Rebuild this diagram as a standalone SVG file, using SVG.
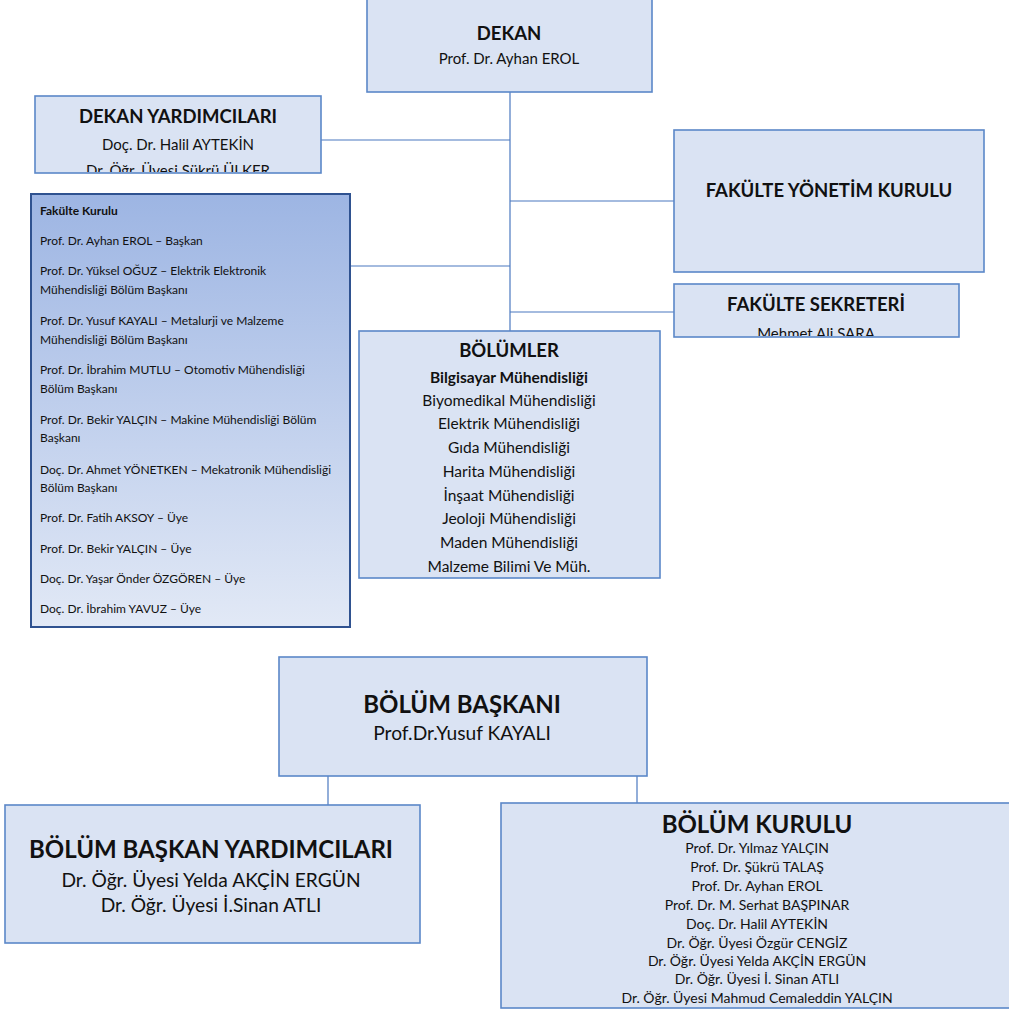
<svg xmlns="http://www.w3.org/2000/svg" width="1009" height="1012" viewBox="0 0 1009 1012">
<style>
text{font-family:Lato,"Liberation Sans",sans-serif;fill:#111;}
.box{fill:#DAE3F3;stroke:#5B87C8;stroke-width:1.6;}
.t{font-weight:bold;font-size:18.5px;text-anchor:middle;}
.n{font-size:15px;text-anchor:middle;}
.b{font-size:15.5px;text-anchor:middle;}
.big{font-weight:bold;font-size:24px;text-anchor:middle;}
.mid{font-size:19.2px;text-anchor:middle;}
.sm{font-size:14px;text-anchor:middle;}
.fk{font-size:12px;}
.con{stroke:#4A78C0;stroke-width:1.2;fill:none;}
</style>
<defs>
<linearGradient id="gk" x1="0" y1="0" x2="0" y2="1">
<stop offset="0" stop-color="#9DB5E3"/>
<stop offset="1" stop-color="#E2E9F6"/>
</linearGradient>
<clipPath id="cy"><rect x="35" y="96" width="286" height="76"/></clipPath>
<clipPath id="cs"><rect x="674" y="284" width="285" height="52"/></clipPath>
</defs>
<g id="connectors">
<line class="con" x1="510" y1="92" x2="510" y2="331"/>
<line class="con" x1="321" y1="140" x2="510" y2="140"/>
<line class="con" x1="350" y1="266" x2="510" y2="266"/>
<line class="con" x1="510" y1="201" x2="674" y2="201"/>
<line class="con" x1="510" y1="312" x2="674" y2="312"/>
<line class="con" x1="328" y1="776" x2="328" y2="805"/>
<line class="con" x1="637" y1="773" x2="637" y2="803"/>
</g>
<g id="dekan">
<rect class="box" x="367" y="-2" width="285" height="94"/>
<text class="t" x="509" y="40">DEKAN</text>
<text class="n" x="509" y="64">Prof. Dr. Ayhan EROL</text>
</g>
<g id="dekan-yardimcilari">
<rect class="box" x="35" y="96" width="286" height="77"/>
<g clip-path="url(#cy)">
<text class="t" x="178" y="123">DEKAN YARDIMCILARI</text>
<text class="n" x="178" y="150">Doç. Dr. Halil AYTEKİN</text>
<text class="n" x="178" y="176">Dr. Öğr. Üyesi Şükrü ÜLKER</text>
</g>
</g>
<g id="fakulte-kurulu">
<rect x="31" y="194" width="319" height="433" fill="url(#gk)" stroke="#2F5290" stroke-width="2"/>
<text class="fk" x="40" y="215" font-weight="bold">Fakülte Kurulu</text>
<text class="fk" x="40" y="245">Prof. Dr. Ayhan EROL – Başkan</text>
<text class="fk" x="40" y="275">Prof. Dr. Yüksel OĞUZ – Elektrik Elektronik</text>
<text class="fk" x="40" y="294">Mühendisliği Bölüm Başkanı</text>
<text class="fk" x="40" y="325">Prof. Dr. Yusuf KAYALI – Metalurji ve Malzeme</text>
<text class="fk" x="40" y="344">Mühendisliği Bölüm Başkanı</text>
<text class="fk" x="40" y="374">Prof. Dr. İbrahim MUTLU – Otomotiv Mühendisliği</text>
<text class="fk" x="40" y="393">Bölüm Başkanı</text>
<text class="fk" x="40" y="424">Prof. Dr. Bekir YALÇIN – Makine Mühendisliği Bölüm</text>
<text class="fk" x="40" y="442">Başkanı</text>
<text class="fk" x="40" y="474">Doç. Dr. Ahmet YÖNETKEN – Mekatronik Mühendisliği</text>
<text class="fk" x="40" y="492">Bölüm Başkanı</text>
<text class="fk" x="40" y="522">Prof. Dr. Fatih AKSOY – Üye</text>
<text class="fk" x="40" y="553">Prof. Dr. Bekir YALÇIN – Üye</text>
<text class="fk" x="40" y="583">Doç. Dr. Yaşar Önder ÖZGÖREN – Üye</text>
<text class="fk" x="40" y="613">Doç. Dr. İbrahim YAVUZ – Üye</text>
</g>
<g id="fakulte-yonetim-kurulu">
<rect class="box" x="674" y="130" width="310" height="142"/>
<text class="t" x="829" y="197">FAKÜLTE YÖNETİM KURULU</text>
</g>
<g id="fakulte-sekreteri">
<rect class="box" x="674" y="284" width="285" height="53"/>
<g clip-path="url(#cs)">
<text class="t" x="816" y="311">FAKÜLTE SEKRETERİ</text>
<text class="n" x="816" y="339">Mehmet Ali SARA</text>
</g>
</g>
<g id="bolumler">
<rect class="box" x="359" y="331" width="301" height="247"/>
<text class="t" x="509" y="357">BÖLÜMLER</text>
<text class="b" x="509" y="383" font-weight="bold">Bilgisayar Mühendisliği</text>
<text class="b" x="509" y="406">Biyomedikal Mühendisliği</text>
<text class="b" x="509" y="429">Elektrik Mühendisliği</text>
<text class="b" x="509" y="453">Gıda Mühendisliği</text>
<text class="b" x="509" y="477">Harita Mühendisliği</text>
<text class="b" x="509" y="501">İnşaat Mühendisliği</text>
<text class="b" x="509" y="524">Jeoloji Mühendisliği</text>
<text class="b" x="509" y="548">Maden Mühendisliği</text>
<text class="b" x="509" y="572">Malzeme Bilimi Ve Müh.</text>
</g>
<g id="bolum-baskani">
<rect class="box" x="279" y="657" width="368" height="119"/>
<text class="big" x="462" y="713">BÖLÜM BAŞKANI</text>
<text class="mid" x="462" y="740">Prof.Dr.Yusuf KAYALI</text>
</g>
<g id="bolum-baskan-yardimcilari">
<rect class="box" x="5" y="805" width="415" height="138"/>
<text class="big" x="211" y="858">BÖLÜM BAŞKAN YARDIMCILARI</text>
<text class="mid" x="211" y="887">Dr. Öğr. Üyesi Yelda AKÇİN ERGÜN</text>
<text class="mid" x="211" y="912">Dr. Öğr. Üyesi İ.Sinan ATLI</text>
</g>
<g id="bolum-kurulu">
<rect class="box" x="501" y="803" width="510" height="205"/>
<text class="big" x="757" y="833">BÖLÜM KURULU</text>
<text class="sm" x="757" y="853">Prof. Dr. Yılmaz YALÇIN</text>
<text class="sm" x="757" y="872">Prof. Dr. Şükrü TALAŞ</text>
<text class="sm" x="757" y="891">Prof. Dr. Ayhan EROL</text>
<text class="sm" x="757" y="910">Prof. Dr. M. Serhat BAŞPINAR</text>
<text class="sm" x="757" y="929">Doç. Dr. Halil AYTEKİN</text>
<text class="sm" x="757" y="948">Dr. Öğr. Üyesi Özgür CENGİZ</text>
<text class="sm" x="757" y="966">Dr. Öğr. Üyesi Yelda AKÇİN ERGÜN</text>
<text class="sm" x="757" y="984">Dr. Öğr. Üyesi İ. Sinan ATLI</text>
<text class="sm" x="757" y="1003">Dr. Öğr. Üyesi Mahmud Cemaleddin YALÇIN</text>
</g>
</svg>
